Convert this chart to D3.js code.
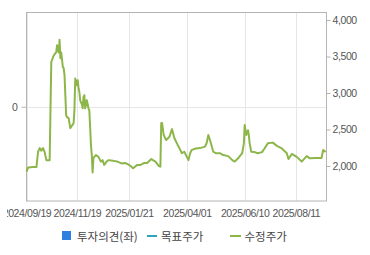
<!DOCTYPE html>
<html>
<head>
<meta charset="utf-8">
<script src="https://cdn.jsdelivr.net/npm/d3@7"></script>
<style>
  body { margin: 0; background: #fff; }
  svg { display: block; }
  .tick text { font-family: "Liberation Sans", Arial, sans-serif; font-size: 10.5px; fill: #555; letter-spacing: -0.4px; }
  .legend text { font-family: "Noto Sans CJK KR", sans-serif; font-size: 11.5px; fill: #444; }
</style>
</head>
<body>
<svg id="chart" width="370" height="255"></svg>
<script>
// 수정주가 (adjusted price)
const dates = [
  "2024-09-19","2024-09-21","2024-09-27","2024-10-01","2024-10-03","2024-10-05","2024-10-07","2024-10-09",
  "2024-10-11","2024-10-13","2024-10-17","2024-10-19","2024-10-22","2024-10-25","2024-10-26","2024-10-28",
  "2024-10-29","2024-10-30","2024-10-31","2024-11-02","2024-11-03","2024-11-04","2024-11-06","2024-11-07",
  "2024-11-09","2024-11-11","2024-11-12","2024-11-15","2024-11-16","2024-11-17","2024-11-19","2024-11-20",
  "2024-11-21","2024-11-22","2024-11-23","2024-11-25","2024-11-26","2024-11-27","2024-11-28","2024-11-29",
  "2024-12-01","2024-12-03","2024-12-04","2024-12-05","2024-12-06","2024-12-07","2024-12-08","2024-12-09",
  "2024-12-12","2024-12-15","2024-12-18","2024-12-20","2024-12-22","2024-12-25","2024-12-27","2025-01-02",
  "2025-01-07","2025-01-12","2025-01-17","2025-01-21","2025-01-24","2025-01-26","2025-01-31","2025-02-04",
  "2025-02-08","2025-02-12","2025-02-17","2025-02-22","2025-02-26","2025-02-28","2025-03-01","2025-03-02",
  "2025-03-04","2025-03-07","2025-03-11","2025-03-14","2025-03-17","2025-03-20","2025-03-24","2025-03-26",
  "2025-03-29","2025-04-01","2025-04-03","2025-04-05","2025-04-07","2025-04-12","2025-04-17","2025-04-23",
  "2025-04-25","2025-04-27","2025-04-29","2025-05-03","2025-05-06","2025-05-11","2025-05-15","2025-05-21",
  "2025-05-26","2025-05-29","2025-06-02","2025-06-07","2025-06-09","2025-06-10","2025-06-12","2025-06-14",
  "2025-06-15","2025-06-16","2025-06-18","2025-06-22","2025-06-26","2025-07-01","2025-07-04","2025-07-08",
  "2025-07-14","2025-07-19","2025-07-25","2025-07-31","2025-08-02","2025-08-06","2025-08-12","2025-08-18",
  "2025-08-24","2025-08-28","2025-09-04","2025-09-11","2025-09-13","2025-09-16"
]
const prices = [
  1922,1980,1985,1985,2195,2245,2210,2245,
  2190,2080,2080,3425,3515,3560,3655,3555,
  3730,3475,3555,3355,3340,3245,2695,2670,
  2655,2520,2535,2585,2765,3200,3105,3175,
  3065,3010,2900,2845,2790,2945,2970,2790,
  2900,2790,2765,2535,2285,2150,1910,2110,
  2150,2125,2060,2080,2015,2060,2080,2070,
  2060,2035,2040,2015,1990,1970,2015,2015,
  2040,2040,2095,2060,2000,1990,2585,2590,
  2425,2355,2400,2505,2380,2310,2220,2175,
  2195,2125,2080,2175,2220,2240,2245,2265,
  2315,2425,2355,2195,2175,2175,2150,2135,
  2080,2060,2105,2175,2310,2560,2425,2490,
  2425,2310,2195,2190,2175,2190,2240,2310,
  2320,2275,2240,2175,2095,2165,2125,2060,
  2135,2105,2110,2110,2220,2190
]

const xTicks = ["2024-09-19","2024-11-19","2025-01-21","2025-04-01","2025-06-10","2025-08-11"]
const rightTicks = [2000, 2500, 3000, 3500, 4000]
const leftTicks = [0]
const legendNames = ["투자의견(좌)", "목표주가", "수정주가"]

const parse = d3.timeParse("%Y-%m-%d")
const fmtDate = d3.timeFormat("%Y/%m/%d")
const data = dates.map((d, i) => ({date: parse(d), price: prices[i]}))

const margin = {top: 12.5, right: 43.5, bottom: 54, left: 26.5}
const width = 370, height = 255

const svg = d3.select("#chart")

// labels are cut at the left edge in the original
svg.append("defs").append("clipPath").attr("id", "xclip")
  .append("rect").attr("x", 7).attr("y", 0).attr("width", width).attr("height", height)

const x = d3.scaleTime()
    .domain([parse("2024-09-19"), parse("2025-09-17")])
    .range([margin.left, width - margin.right])

const y = d3.scaleLinear()
    .domain([1520, 4103])
    .range([height - margin.bottom, margin.top])

const yLeft = d3.scaleLinear()
    .domain([-1, 1])
    .range([height - margin.bottom, margin.top])

// vertical grid
svg.append("g")
  .selectAll("line")
  .data(xTicks.map(parse))
  .join("line")
    .attr("x1", d => Math.round(x(d)) + 0.5)
    .attr("x2", d => Math.round(x(d)) + 0.5)
    .attr("y1", margin.top)
    .attr("y2", height - margin.bottom)
    .attr("stroke", "#e6e6e6")

// horizontal grid for left axis
svg.append("g")
  .selectAll("line")
  .data(leftTicks)
  .join("line")
    .attr("x1", margin.left)
    .attr("x2", width - margin.right)
    .attr("y1", d => Math.round(yLeft(d)) + 0.5)
    .attr("y2", d => Math.round(yLeft(d)) + 0.5)
    .attr("stroke", "#e6e6e6")

// frame
svg.append("rect")
    .attr("x", margin.left)
    .attr("y", margin.top)
    .attr("width", width - margin.right - margin.left)
    .attr("height", height - margin.bottom - margin.top)
    .attr("fill", "none")
    .attr("stroke", "#b4b4b4")

// x axis
svg.append("g")
    .attr("clip-path", "url(#xclip)")
  .append("g")
    .attr("transform", `translate(0,${height - margin.bottom})`)
    .call(d3.axisBottom(x).tickValues(xTicks.map(parse)).tickFormat(fmtDate).tickSize(0).tickPadding(9))
    .call(g => g.select(".domain").remove())

// right axis
svg.append("g")
    .attr("transform", `translate(${width - margin.right},0)`)
    .call(d3.axisRight(y).tickValues(rightTicks).tickFormat(d3.format(",")).tickSize(4).tickPadding(2))
    .call(g => g.select(".domain").remove())
    .call(g => g.selectAll(".tick line").attr("stroke", "#b4b4b4"))

// left axis
svg.append("g")
    .attr("transform", `translate(${margin.left},0)`)
    .call(d3.axisLeft(yLeft).tickValues(leftTicks).tickFormat(d3.format("d")).tickSize(5).tickPadding(4))
    .call(g => g.select(".domain").remove())
    .call(g => g.selectAll(".tick line").attr("stroke", "#b4b4b4"))

const line = d3.line()
    .x(d => x(d.date))
    .y(d => y(d.price))

svg.append("path")
    .datum(data)
    .attr("fill", "none")
    .attr("stroke", "#8db64a")
    .attr("stroke-width", 2)
    .attr("stroke-linejoin", "round")
    .attr("d", line)

// legend
const legend = svg.append("g").attr("class", "legend")
legend.append("rect")
    .attr("x", 62).attr("y", 231).attr("width", 9).attr("height", 9)
    .attr("fill", "#2f7fe0")
legend.append("text").attr("x", 77).attr("y", 240.5).text(legendNames[0])
legend.append("line")
    .attr("x1", 147).attr("x2", 157).attr("y1", 236).attr("y2", 236)
    .attr("stroke", "#2aa6b8").attr("stroke-width", 2)
legend.append("text").attr("x", 161).attr("y", 240.5).text(legendNames[1])
legend.append("line")
    .attr("x1", 230).attr("x2", 241).attr("y1", 236).attr("y2", 236)
    .attr("stroke", "#8db64a").attr("stroke-width", 2)
legend.append("text").attr("x", 244.5).attr("y", 240.5).text(legendNames[2])
</script>
</body>
</html>
